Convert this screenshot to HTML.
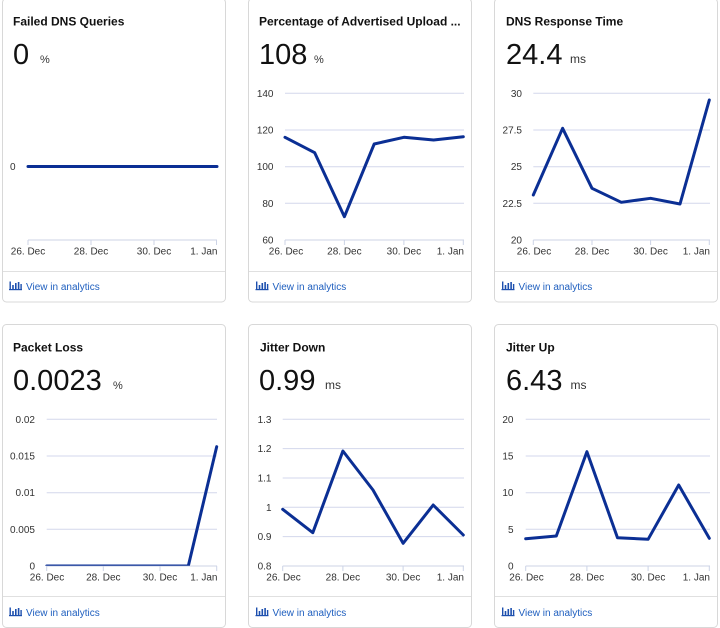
<!DOCTYPE html>
<html><head><meta charset="utf-8"><style>
html,body{margin:0;padding:0;background:#fff;}
svg{display:block;}
text{font-family:"Liberation Sans",Arial,sans-serif;}
.t{font-size:12px;font-weight:bold;fill:#111;}
.n{font-size:29px;fill:#111;}
.u{font-size:11px;fill:#333;}
.ms{font-size:12px;fill:#333;}
.yl{font-size:10px;fill:#333;text-anchor:end;}
.xl{font-size:10px;fill:#333;}
.lk{font-size:10px;fill:#1f5fbf;}
.g{stroke:#d3d7ec;stroke-width:1;}
.ax{stroke:#ccd3e6;stroke-width:1;}
.s{fill:none;stroke:#0b2f94;stroke-width:3;stroke-linejoin:round;stroke-linecap:round;}
.card{fill:#fff;stroke:#d8d8d8;stroke-width:1;}
.dv{stroke:#e0e0e0;stroke-width:1;}
.ic{fill:#1d4fae;}
</style></head><body>
<svg width="720" height="628" viewBox="0 0 720 628" xmlns="http://www.w3.org/2000/svg">
<defs>
<clipPath id="pl"><rect x="40" y="410" width="185" height="155.7"/></clipPath>
<g id="icon">
<rect class="ic" x="0" y="7.5" width="13" height="1.2"/>
<rect class="ic" x="0.5" y="0" width="1.4" height="7.5"/>
<rect class="ic" x="3.2" y="3.5" width="1.6" height="4"/>
<rect class="ic" x="6" y="1.5" width="1.6" height="6"/>
<rect class="ic" x="8.8" y="0.5" width="1.6" height="7"/>
<rect class="ic" x="11.4" y="2.5" width="1.4" height="5"/>
</g>
</defs>

<!-- Cards top row -->
<rect class="card" x="2.5" y="-1.5" width="223" height="303.5" rx="4"/>
<rect class="card" x="248.5" y="-1.5" width="223" height="303.5" rx="4"/>
<rect class="card" x="494.5" y="-1.5" width="223" height="303.5" rx="4"/>
<line class="dv" x1="3" y1="271.5" x2="225" y2="271.5"/>
<line class="dv" x1="249" y1="271.5" x2="471" y2="271.5"/>
<line class="dv" x1="495" y1="271.5" x2="717" y2="271.5"/>

<!-- Cards bottom row -->
<rect class="card" x="2.5" y="324.5" width="223" height="303" rx="4"/>
<rect class="card" x="248.5" y="324.5" width="223" height="303" rx="4"/>
<rect class="card" x="494.5" y="324.5" width="223" height="303" rx="4"/>
<line class="dv" x1="3" y1="596.5" x2="225" y2="596.5"/>
<line class="dv" x1="249" y1="596.5" x2="471" y2="596.5"/>
<line class="dv" x1="495" y1="596.5" x2="717" y2="596.5"/>

<!-- ===== Card 1: Failed DNS Queries ===== -->
<text class="t" x="13" y="25.5">Failed DNS Queries</text>
<text class="n" x="13" y="64">0</text>
<text class="u" x="40" y="63">%</text>
<text class="yl" x="15.5" y="170">0</text>
<line class="ax" x1="28" y1="240" x2="217" y2="240"/>
<g class="ax"><line x1="28" y1="240" x2="28" y2="245"/><line x1="91" y1="240" x2="91" y2="245"/><line x1="154" y1="240" x2="154" y2="245"/><line x1="216.5" y1="240" x2="216.5" y2="245"/></g>
<text class="xl" x="28" y="254.7" text-anchor="middle">26. Dec</text>
<text class="xl" x="91" y="254.7" text-anchor="middle">28. Dec</text>
<text class="xl" x="154" y="254.7" text-anchor="middle">30. Dec</text>
<text class="xl" x="217.5" y="254.7" text-anchor="end">1. Jan</text>
<polyline class="s" points="28,166.5 217,166.5"/>
<use href="#icon" x="9" y="281.5"/>
<text class="lk" x="26" y="290">View in analytics</text>

<!-- ===== Card 2: Percentage of Advertised Upload ===== -->
<text class="t" x="259" y="25.5">Percentage of Advertised Upload ...</text>
<text class="n" x="259" y="64">108</text>
<text class="u" x="314" y="63">%</text>
<g class="g"><line x1="285" y1="93.3" x2="464" y2="93.3"/><line x1="285" y1="130" x2="464" y2="130"/><line x1="285" y1="166.7" x2="464" y2="166.7"/><line x1="285" y1="203.3" x2="464" y2="203.3"/></g>
<line class="ax" x1="285" y1="240" x2="464" y2="240"/>
<g class="ax"><line x1="285" y1="240" x2="285" y2="245"/><line x1="344.4" y1="240" x2="344.4" y2="245"/><line x1="403.9" y1="240" x2="403.9" y2="245"/><line x1="463.3" y1="240" x2="463.3" y2="245"/></g>
<text class="yl" x="273.5" y="96.8">140</text>
<text class="yl" x="273.5" y="133.5">120</text>
<text class="yl" x="273.5" y="170.2">100</text>
<text class="yl" x="273.5" y="206.8">80</text>
<text class="yl" x="273.5" y="243.5">60</text>
<text class="xl" x="286" y="254.7" text-anchor="middle">26. Dec</text>
<text class="xl" x="344.4" y="254.7" text-anchor="middle">28. Dec</text>
<text class="xl" x="403.9" y="254.7" text-anchor="middle">30. Dec</text>
<text class="xl" x="464" y="254.7" text-anchor="end">1. Jan</text>
<polyline class="s" points="285,137.3 314.7,152.7 344.4,216.7 374.2,144 403.9,137.3 433.6,140 463.3,136.7"/>
<use href="#icon" x="255.5" y="281.5"/>
<text class="lk" x="272.5" y="290">View in analytics</text>

<!-- ===== Card 3: DNS Response Time ===== -->
<text class="t" x="506" y="25.5">DNS Response Time</text>
<text class="n" x="506" y="64">24.4</text>
<text class="ms" x="570" y="63">ms</text>
<g class="g"><line x1="533.3" y1="93.3" x2="710" y2="93.3"/><line x1="533.3" y1="130" x2="710" y2="130"/><line x1="533.3" y1="166.7" x2="710" y2="166.7"/><line x1="533.3" y1="203.3" x2="710" y2="203.3"/></g>
<line class="ax" x1="533.3" y1="240" x2="710" y2="240"/>
<g class="ax"><line x1="533.3" y1="240" x2="533.3" y2="245"/><line x1="592" y1="240" x2="592" y2="245"/><line x1="650.6" y1="240" x2="650.6" y2="245"/><line x1="709.3" y1="240" x2="709.3" y2="245"/></g>
<text class="yl" x="522" y="96.8">30</text>
<text class="yl" x="522" y="133.5">27.5</text>
<text class="yl" x="522" y="170.2">25</text>
<text class="yl" x="522" y="206.8">22.5</text>
<text class="yl" x="522" y="243.5">20</text>
<text class="xl" x="534" y="254.7" text-anchor="middle">26. Dec</text>
<text class="xl" x="592" y="254.7" text-anchor="middle">28. Dec</text>
<text class="xl" x="650.6" y="254.7" text-anchor="middle">30. Dec</text>
<text class="xl" x="710" y="254.7" text-anchor="end">1. Jan</text>
<polyline class="s" points="533.3,195 562.6,128.3 592,188.3 621.3,202.3 650.6,198.3 680,204 709.3,100"/>
<use href="#icon" x="501.5" y="281.5"/>
<text class="lk" x="518.5" y="290">View in analytics</text>

<!-- ===== Card 4: Packet Loss ===== -->
<text class="t" x="13" y="351.5">Packet Loss</text>
<text class="n" x="13" y="390">0.0023</text>
<text class="u" x="113" y="389">%</text>
<g class="g"><line x1="46.7" y1="419.3" x2="217" y2="419.3"/><line x1="46.7" y1="456" x2="217" y2="456"/><line x1="46.7" y1="492.7" x2="217" y2="492.7"/><line x1="46.7" y1="529.3" x2="217" y2="529.3"/></g>
<line class="ax" x1="46.7" y1="566" x2="217" y2="566"/>
<g class="ax"><line x1="46.7" y1="566" x2="46.7" y2="571"/><line x1="103.3" y1="566" x2="103.3" y2="571"/><line x1="160" y1="566" x2="160" y2="571"/><line x1="216.7" y1="566" x2="216.7" y2="571"/></g>
<text class="yl" x="35" y="422.8">0.02</text>
<text class="yl" x="35" y="459.5">0.015</text>
<text class="yl" x="35" y="496.2">0.01</text>
<text class="yl" x="35" y="532.8">0.005</text>
<text class="yl" x="35" y="569.5">0</text>
<text class="xl" x="47" y="580.7" text-anchor="middle">26. Dec</text>
<text class="xl" x="103.3" y="580.7" text-anchor="middle">28. Dec</text>
<text class="xl" x="160" y="580.7" text-anchor="middle">30. Dec</text>
<text class="xl" x="217.5" y="580.7" text-anchor="end">1. Jan</text>
<polyline class="s" clip-path="url(#pl)" points="46.7,566 75,566 103.3,566 131.7,566 160,566 188.3,566 216.7,446.7"/>
<use href="#icon" x="9" y="607.5"/>
<text class="lk" x="26" y="616">View in analytics</text>

<!-- ===== Card 5: Jitter Down ===== -->
<text class="t" x="260" y="351.5">Jitter Down</text>
<text class="n" x="259" y="390">0.99</text>
<text class="ms" x="325" y="389">ms</text>
<g class="g"><line x1="282.7" y1="419.3" x2="464" y2="419.3"/><line x1="282.7" y1="448.6" x2="464" y2="448.6"/><line x1="282.7" y1="478" x2="464" y2="478"/><line x1="282.7" y1="507.3" x2="464" y2="507.3"/><line x1="282.7" y1="536.6" x2="464" y2="536.6"/></g>
<line class="ax" x1="282.7" y1="566" x2="464" y2="566"/>
<g class="ax"><line x1="282.7" y1="566" x2="282.7" y2="571"/><line x1="342.9" y1="566" x2="342.9" y2="571"/><line x1="403.1" y1="566" x2="403.1" y2="571"/><line x1="463.3" y1="566" x2="463.3" y2="571"/></g>
<text class="yl" x="271.5" y="422.8">1.3</text>
<text class="yl" x="271.5" y="452.1">1.2</text>
<text class="yl" x="271.5" y="481.5">1.1</text>
<text class="yl" x="271.5" y="510.8">1</text>
<text class="yl" x="271.5" y="540.1">0.9</text>
<text class="yl" x="271.5" y="569.5">0.8</text>
<text class="xl" x="283.5" y="580.7" text-anchor="middle">26. Dec</text>
<text class="xl" x="342.9" y="580.7" text-anchor="middle">28. Dec</text>
<text class="xl" x="403.1" y="580.7" text-anchor="middle">30. Dec</text>
<text class="xl" x="464" y="580.7" text-anchor="end">1. Jan</text>
<polyline class="s" points="282.7,509.3 312.8,532.7 342.9,451 373,490 403.1,543.3 433.2,505 463.3,535"/>
<use href="#icon" x="255.5" y="607.5"/>
<text class="lk" x="272.5" y="616">View in analytics</text>

<!-- ===== Card 6: Jitter Up ===== -->
<text class="t" x="506" y="351.5">Jitter Up</text>
<text class="n" x="506" y="390">6.43</text>
<text class="ms" x="570.5" y="389">ms</text>
<g class="g"><line x1="525.7" y1="419.3" x2="710" y2="419.3"/><line x1="525.7" y1="456" x2="710" y2="456"/><line x1="525.7" y1="492.7" x2="710" y2="492.7"/><line x1="525.7" y1="529.3" x2="710" y2="529.3"/></g>
<line class="ax" x1="525.7" y1="566" x2="710" y2="566"/>
<g class="ax"><line x1="525.7" y1="566" x2="525.7" y2="571"/><line x1="586.9" y1="566" x2="586.9" y2="571"/><line x1="648.1" y1="566" x2="648.1" y2="571"/><line x1="709.3" y1="566" x2="709.3" y2="571"/></g>
<text class="yl" x="513.5" y="422.8">20</text>
<text class="yl" x="513.5" y="459.5">15</text>
<text class="yl" x="513.5" y="496.2">10</text>
<text class="yl" x="513.5" y="532.8">5</text>
<text class="yl" x="513.5" y="569.5">0</text>
<text class="xl" x="526.5" y="580.7" text-anchor="middle">26. Dec</text>
<text class="xl" x="586.9" y="580.7" text-anchor="middle">28. Dec</text>
<text class="xl" x="648.1" y="580.7" text-anchor="middle">30. Dec</text>
<text class="xl" x="710" y="580.7" text-anchor="end">1. Jan</text>
<polyline class="s" points="525.7,538.7 556.3,536 586.9,451.7 617.5,537.7 648.1,539.3 678.7,485 709.3,538.3"/>
<use href="#icon" x="501.5" y="607.5"/>
<text class="lk" x="518.5" y="616">View in analytics</text>
</svg>
</body></html>
